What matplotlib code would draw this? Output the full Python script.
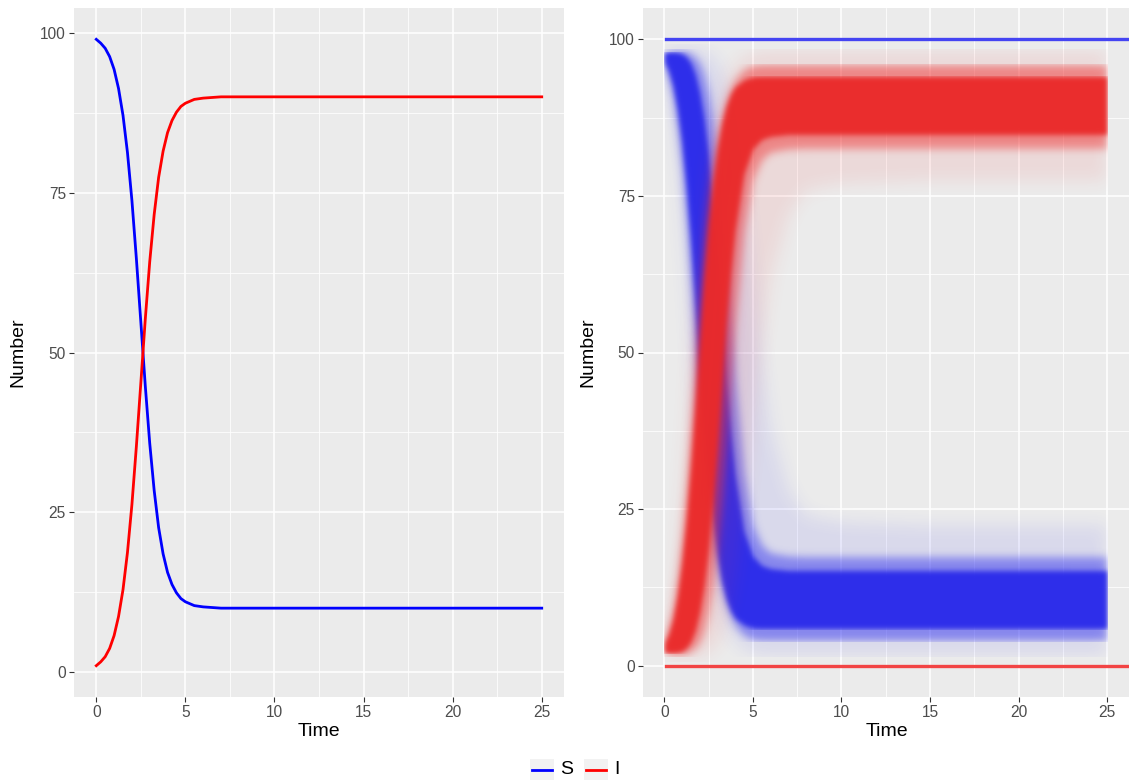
import matplotlib
matplotlib.use("Agg")
import numpy as np
import matplotlib.pyplot as plt
from matplotlib.colors import to_rgb
from matplotlib.patches import Rectangle
from matplotlib.lines import Line2D

plt.rcParams["font.family"] = ["Liberation Sans", "DejaVu Sans"]

BG = "#EBEBEB"
TICK_TXT = "#4D4D4D"
TICK_C = "#333333"
BLUE = "#0000FF"
RED = "#FF0000"

# ── Left panel: deterministic model ──────────────────────────────────────────
t_det = [0, 0.25, 0.5, 0.75, 1.0, 1.25, 1.5, 1.75, 2.0, 2.25, 2.5, 2.75, 3.0,
         3.25, 3.5, 3.75, 4.0, 4.25, 4.5, 4.75, 5.0, 5.5, 6.0, 6.5, 7.0, 8.0,
         10, 15, 20, 25]
s_det = [99.0, 98.4, 97.6, 96.3, 94.3, 91.3, 87.1, 81.3, 73.8, 64.7, 54.8,
         44.8, 35.8, 28.4, 22.6, 18.5, 15.6, 13.7, 12.4, 11.5, 11.0, 10.4,
         10.2, 10.1, 10.0, 10.0, 10.0, 10.0, 10.0, 10.0]
i_det = [1.0, 1.6, 2.4, 3.7, 5.7, 8.7, 12.9, 18.7, 26.2, 35.3, 45.2, 55.2,
         64.2, 71.6, 77.4, 81.5, 84.4, 86.3, 87.6, 88.5, 89.0, 89.6, 89.8,
         89.9, 90.0, 90.0, 90.0, 90.0, 90.0, 90.0]

# ── Right panel: stochastic ensemble, read as bands of I (S = 100 - I) ──────
t_sim = [0, 0.25, 0.5, 0.75, 1.0, 1.25, 1.5, 1.75, 2.0, 2.25, 2.5, 2.75, 3.0,
         3.25, 3.5, 3.75, 4.0, 4.5, 5.0, 5.5, 6.0, 7.0, 8.0, 10, 15, 20, 25]
i_core_hi = [3.6, 5.0, 7.4, 11.2, 16.4, 23.4, 32.0, 42.0, 52.3, 62.0, 70.5,
             77.3, 82.5, 86.5, 89.3, 91.2, 92.4, 93.5, 94.0, 94.1, 94.1, 94.1,
             94.1, 94.1, 94.1, 94.1, 94.1]
i_core_lo = [2.0, 2.0, 2.0, 2.1, 2.3, 2.8, 3.8, 5.6, 8.5, 12.7, 18.4, 25.8,
             34.6, 44.6, 54.5, 62.5, 69.5, 78.5, 82.5, 84.0, 84.5, 84.8, 84.8,
             84.8, 84.8, 84.8, 84.8]
i_env_hi = [4.5, 6.5, 9.5, 14.5, 21.0, 29.5, 39.5, 50.0, 60.0, 68.5, 75.5,
            81.0, 85.0, 88.0, 90.5, 92.3, 93.6, 95.2, 95.8, 96.0, 96.0, 96.0,
            96.0, 96.0, 96.0, 96.0, 96.0]
i_env_lo = [2.0, 1.8, 1.6, 1.6, 1.7, 1.9, 2.3, 2.8, 3.8, 5.6, 8.5, 12.7, 18.4,
            25.8, 34.6, 44.6, 54.0, 69.0, 77.5, 80.8, 82.0, 82.5, 82.6, 82.6,
            82.6, 82.6, 82.6]
i_max = [6.0, 9.0, 13.5, 20.0, 28.0, 38.0, 49.0, 59.0, 68.0, 75.5, 81.0, 85.5,
         89.0, 91.5, 93.5, 95.0, 96.0, 97.3, 98.0, 98.5, 98.5, 98.5, 98.5,
         98.5, 98.5, 98.5, 98.5]
i_min = [2.0, 1.2, 0.8, 0.8, 0.9, 1.0, 1.1, 1.3, 1.5, 1.8, 2.2, 2.8, 3.6, 5.0,
         7.2, 10.0, 14.0, 25.0, 38.0, 52.0, 62.0, 72.0, 76.0, 77.0, 77.5,
         77.5, 77.5]
# runs where the infection died out: S stays 100, I stays 0
t_ext = [0.1, 27]
s_ext = [100, 100]
i_ext = [0, 0]


def soft(sigma, color):
    """agg_filter: blur the alpha of a one-colour fill so its edge looks fuzzy."""
    r = int(3 * sigma)
    k = np.exp(-0.5 * (np.arange(-r, r + 1) / sigma) ** 2)
    k /= k.sum()
    rgb = np.array(to_rgb(color))

    def f(im, dpi):
        a = np.pad(im[:, :, 3], r)
        h, w = a.shape
        b = np.zeros_like(a)
        for i, kv in enumerate(k):
            b[:, r:w - r] += kv * a[:, i:i + w - 2 * r]
        c = np.zeros_like(b)
        for i, kv in enumerate(k):
            c[r:h - r, :] += kv * b[i:i + h - 2 * r, :]
        out = np.zeros((h, w, 4), dtype=im.dtype)
        out[:, :, :3] = rgb
        out[:, :, 3] = c
        return out, -r, -r
    return f


fig = plt.figure(figsize=(11.29, 7.81), dpi=100, facecolor="white")
ax1 = fig.add_axes([74 / 1129, 84 / 781, 490 / 1129, 689 / 781])
ax2 = fig.add_axes([643 / 1129, 84 / 781, 488 / 1129, 689 / 781])


def style(ax, xlim, ylim):
    ax.set_facecolor(BG)
    ax.set_xlim(*xlim)
    ax.set_ylim(*ylim)
    ax.set_xticks([0, 5, 10, 15, 20, 25])
    ax.set_xticks([2.5, 7.5, 12.5, 17.5, 22.5], minor=True)
    ax.set_yticks([0, 25, 50, 75, 100])
    ax.set_yticks([12.5, 37.5, 62.5, 87.5], minor=True)
    ax.grid(which="major", color="white", lw=1.1, zorder=0)
    ax.grid(which="minor", color="white", lw=0.55, zorder=0)
    ax.set_axisbelow(True)
    ax.tick_params(which="major", length=3.3, width=0.8, color=TICK_C,
                   labelcolor=TICK_TXT, labelsize=11.2, pad=2.5)
    ax.tick_params(which="minor", length=0)
    for sp in ax.spines.values():
        sp.set_visible(False)


# left panel
style(ax1, (-1.25, 26.25), (-3.9, 103.9))
ax1.plot(t_det, s_det, color=BLUE, lw=2.0, zorder=3)
ax1.plot(t_det, i_det, color=RED, lw=2.0, zorder=3)

# right panel
style(ax2, (-1.2, 26.35), (-5, 105))
s_core_hi = [100 - v for v in i_core_lo]
s_core_lo = [100 - v for v in i_core_hi]
s_env_hi = [100 - v for v in i_env_lo]
s_env_lo = [100 - v for v in i_env_hi]
s_max = [100 - v for v in i_min]
s_min = [100 - v for v in i_max]

bands = [
    (s_min, s_max, "#3535F0", 0.10, 6),
    (s_env_lo, s_env_hi, "#3535F0", 0.5, 3),
    (s_core_lo, s_core_hi, "#2B2BEA", 0.97, 1.8),
    (i_min, i_max, "#F03535", 0.10, 6),
    (i_env_lo, i_env_hi, "#F03535", 0.5, 3),
    (i_core_lo, i_core_hi, "#EA2A2A", 0.97, 1.8),
]
for lo, hi, col, a, sig in bands:
    p = ax2.fill_between(t_sim, lo, hi, color=col, alpha=a, lw=0, zorder=2)
    p.set_agg_filter(soft(sig, col))
ax2.plot(t_ext, s_ext, color="#4444F2", lw=2.4, zorder=3)
ax2.plot(t_ext, i_ext, color="#F24444", lw=2.4, zorder=3)

# axis titles
fig.text(319 / 1129, 1 - 732 / 781, "Time", fontsize=14, ha="center", va="center")
fig.text(887 / 1129, 1 - 732 / 781, "Time", fontsize=14, ha="center", va="center")
fig.text(18 / 1129, 1 - 352 / 781, "Number", fontsize=14, rotation=90,
         ha="center", va="center")
fig.text(588 / 1129, 1 - 352 / 781, "Number", fontsize=14, rotation=90,
         ha="center", va="center")

# legend (drawn by hand, ggplot style)
keys = [(530, BLUE, "S"), (584, RED, "I")]
for x0, col, lab in keys:
    fig.add_artist(Rectangle((x0 / 1129, 1 / 781), 24 / 1129, 21 / 781,
                             transform=fig.transFigure, color="#F2F2F2", lw=0))
    fig.add_artist(Line2D([(x0 + 2) / 1129, (x0 + 22) / 1129],
                          [1 - 770 / 781, 1 - 770 / 781],
                          transform=fig.transFigure, color=col, lw=2.0))
    fig.text((x0 + 30) / 1129, 1 - 770 / 781, lab, fontsize=14,
             ha="left", va="center")

fig.savefig("out.png", dpi=100, facecolor="white")
